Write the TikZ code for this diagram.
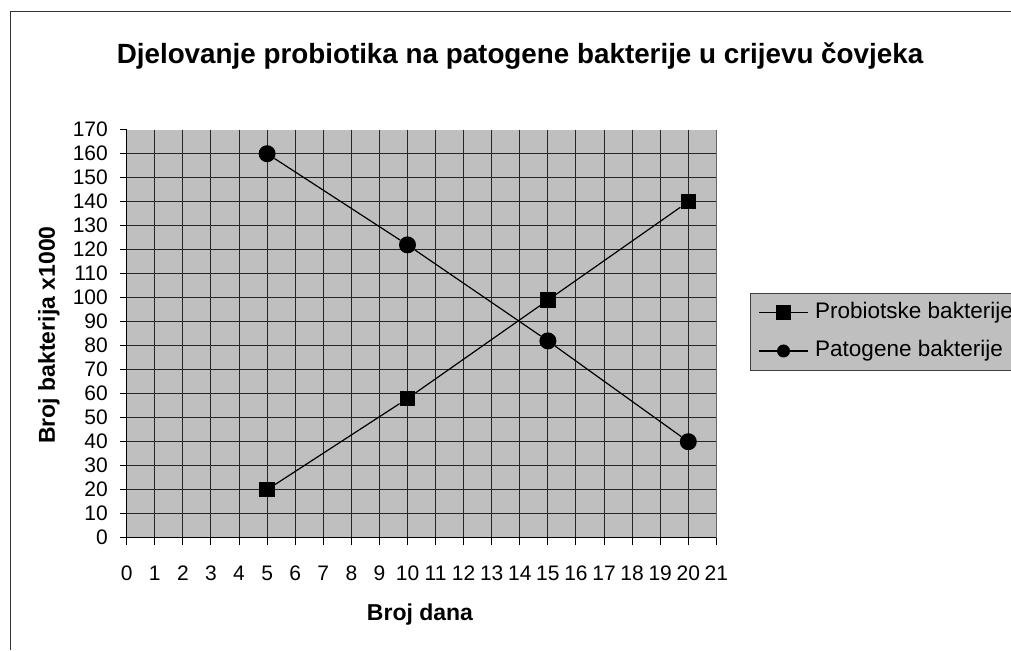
\documentclass[tikz,border=0pt]{standalone}
\usepackage{fontspec}
\setmainfont{Liberation Sans}
\begin{document}
\begin{tikzpicture}[x=1pt,y=1pt,
  tick/.style={font=\fontsize{21}{24}\selectfont, inner sep=0pt},
  axtitle/.style={font=\fontsize{23}{26}\selectfont\bfseries, inner sep=0pt},
  legtext/.style={anchor=west, inner sep=0pt, font=\fontsize{22.5}{26}\selectfont},
  sq/.style={rectangle, fill=black, minimum size=15.5pt, inner sep=0pt},
  dot/.style={circle, fill=black, minimum size=17pt, inner sep=0pt},
  series/.style={black, line width=1.2pt},
  grid/.style={black!85, line width=1pt}]
\useasboundingbox (0,0) rectangle (1011,650);
\fill[white] (0,0) rectangle (1011,650);
% chart frame
\draw[black!80, line width=1.5pt] (10.5,0) -- (10.5,638.5) -- (1011,638.5);
% title
\node[font=\fontsize{27.8}{32}\selectfont\bfseries, inner sep=0pt, anchor=base] (title) at (520,586.7) {Djelovanje probiotika na patogene bakterije u crijevu čovjeka};
% plot
\begin{scope}[shift={(126.7,112.3)}, x=28.08pt, y=2.4pt]
  \fill[black!25] (0,0) rectangle (21,170);
  \foreach \i in {1,...,20} \draw[grid] (\i,0) -- (\i,170);
  \foreach \j in {10,20,...,160} \draw[grid] (0,\j) -- (21,\j);
  \draw[black!60, line width=1pt] (21,0) -- (21,170);
  \draw[black, line width=1pt] (0,170) -- (0,0) -- (21,0);
  \foreach \j in {0,10,...,170} {
    \draw[black, line width=1pt] (0,\j) -- ++(-7pt,0);
    \node[tick, anchor=east] (yl\j) at ([xshift=-18.7pt]0,\j) {\j};
  }
  \foreach \i in {0,...,21} {
    \draw[black, line width=1pt] (\i,0) -- ++(0,-7pt);
    \node[tick] (xl\i) at ([yshift=-35.5pt]\i,0) {\i};
  }
  % series
  \node[sq] (p1) at (5,20) {};
  \node[sq] (p2) at (10,58) {};
  \node[sq] (p3) at (15,99) {};
  \node[sq] (p4) at (20,140) {};
  \node[dot] (q1) at (5,160) {};
  \node[dot] (q2) at (10,122) {};
  \node[dot] (q3) at (15,82) {};
  \node[dot] (q4) at (20,40) {};
  \draw[series] (p1) -- (p2) -- (p3) -- (p4);
  \draw[series] (q1) -- (q2) -- (q3) -- (q4);
\end{scope}
% axis titles
\node[axtitle, rotate=90] (ytitle) at (49,315) {Broj bakterija x1000};
\node[axtitle] (xtitle) at (420,35) {Broj dana};
% legend
\fill[black!25] (750.7,279.3) rectangle (1011,356);
\draw[black!75, line width=1pt] (1011,356) -- (750.7,356) -- (750.7,279.3) -- (1011,279.3);
\coordinate (la1) at (759,337.7);
\coordinate (lb1) at (808,337.7);
\coordinate (la2) at (759,299);
\coordinate (lb2) at (808,299);
\draw[series] (la1) -- (lb1);
\draw[series] (la2) -- (lb2);
\node[sq] (lm1) at (783.5,337.7) {};
\node[dot, minimum size=13pt] (lm2) at (783.5,299) {};
\node[legtext] (lt1) at (815,337.7) {Probiotske bakterije};
\node[legtext] (lt2) at (815,299) {Patogene bakterije};
\end{tikzpicture}
\end{document}
